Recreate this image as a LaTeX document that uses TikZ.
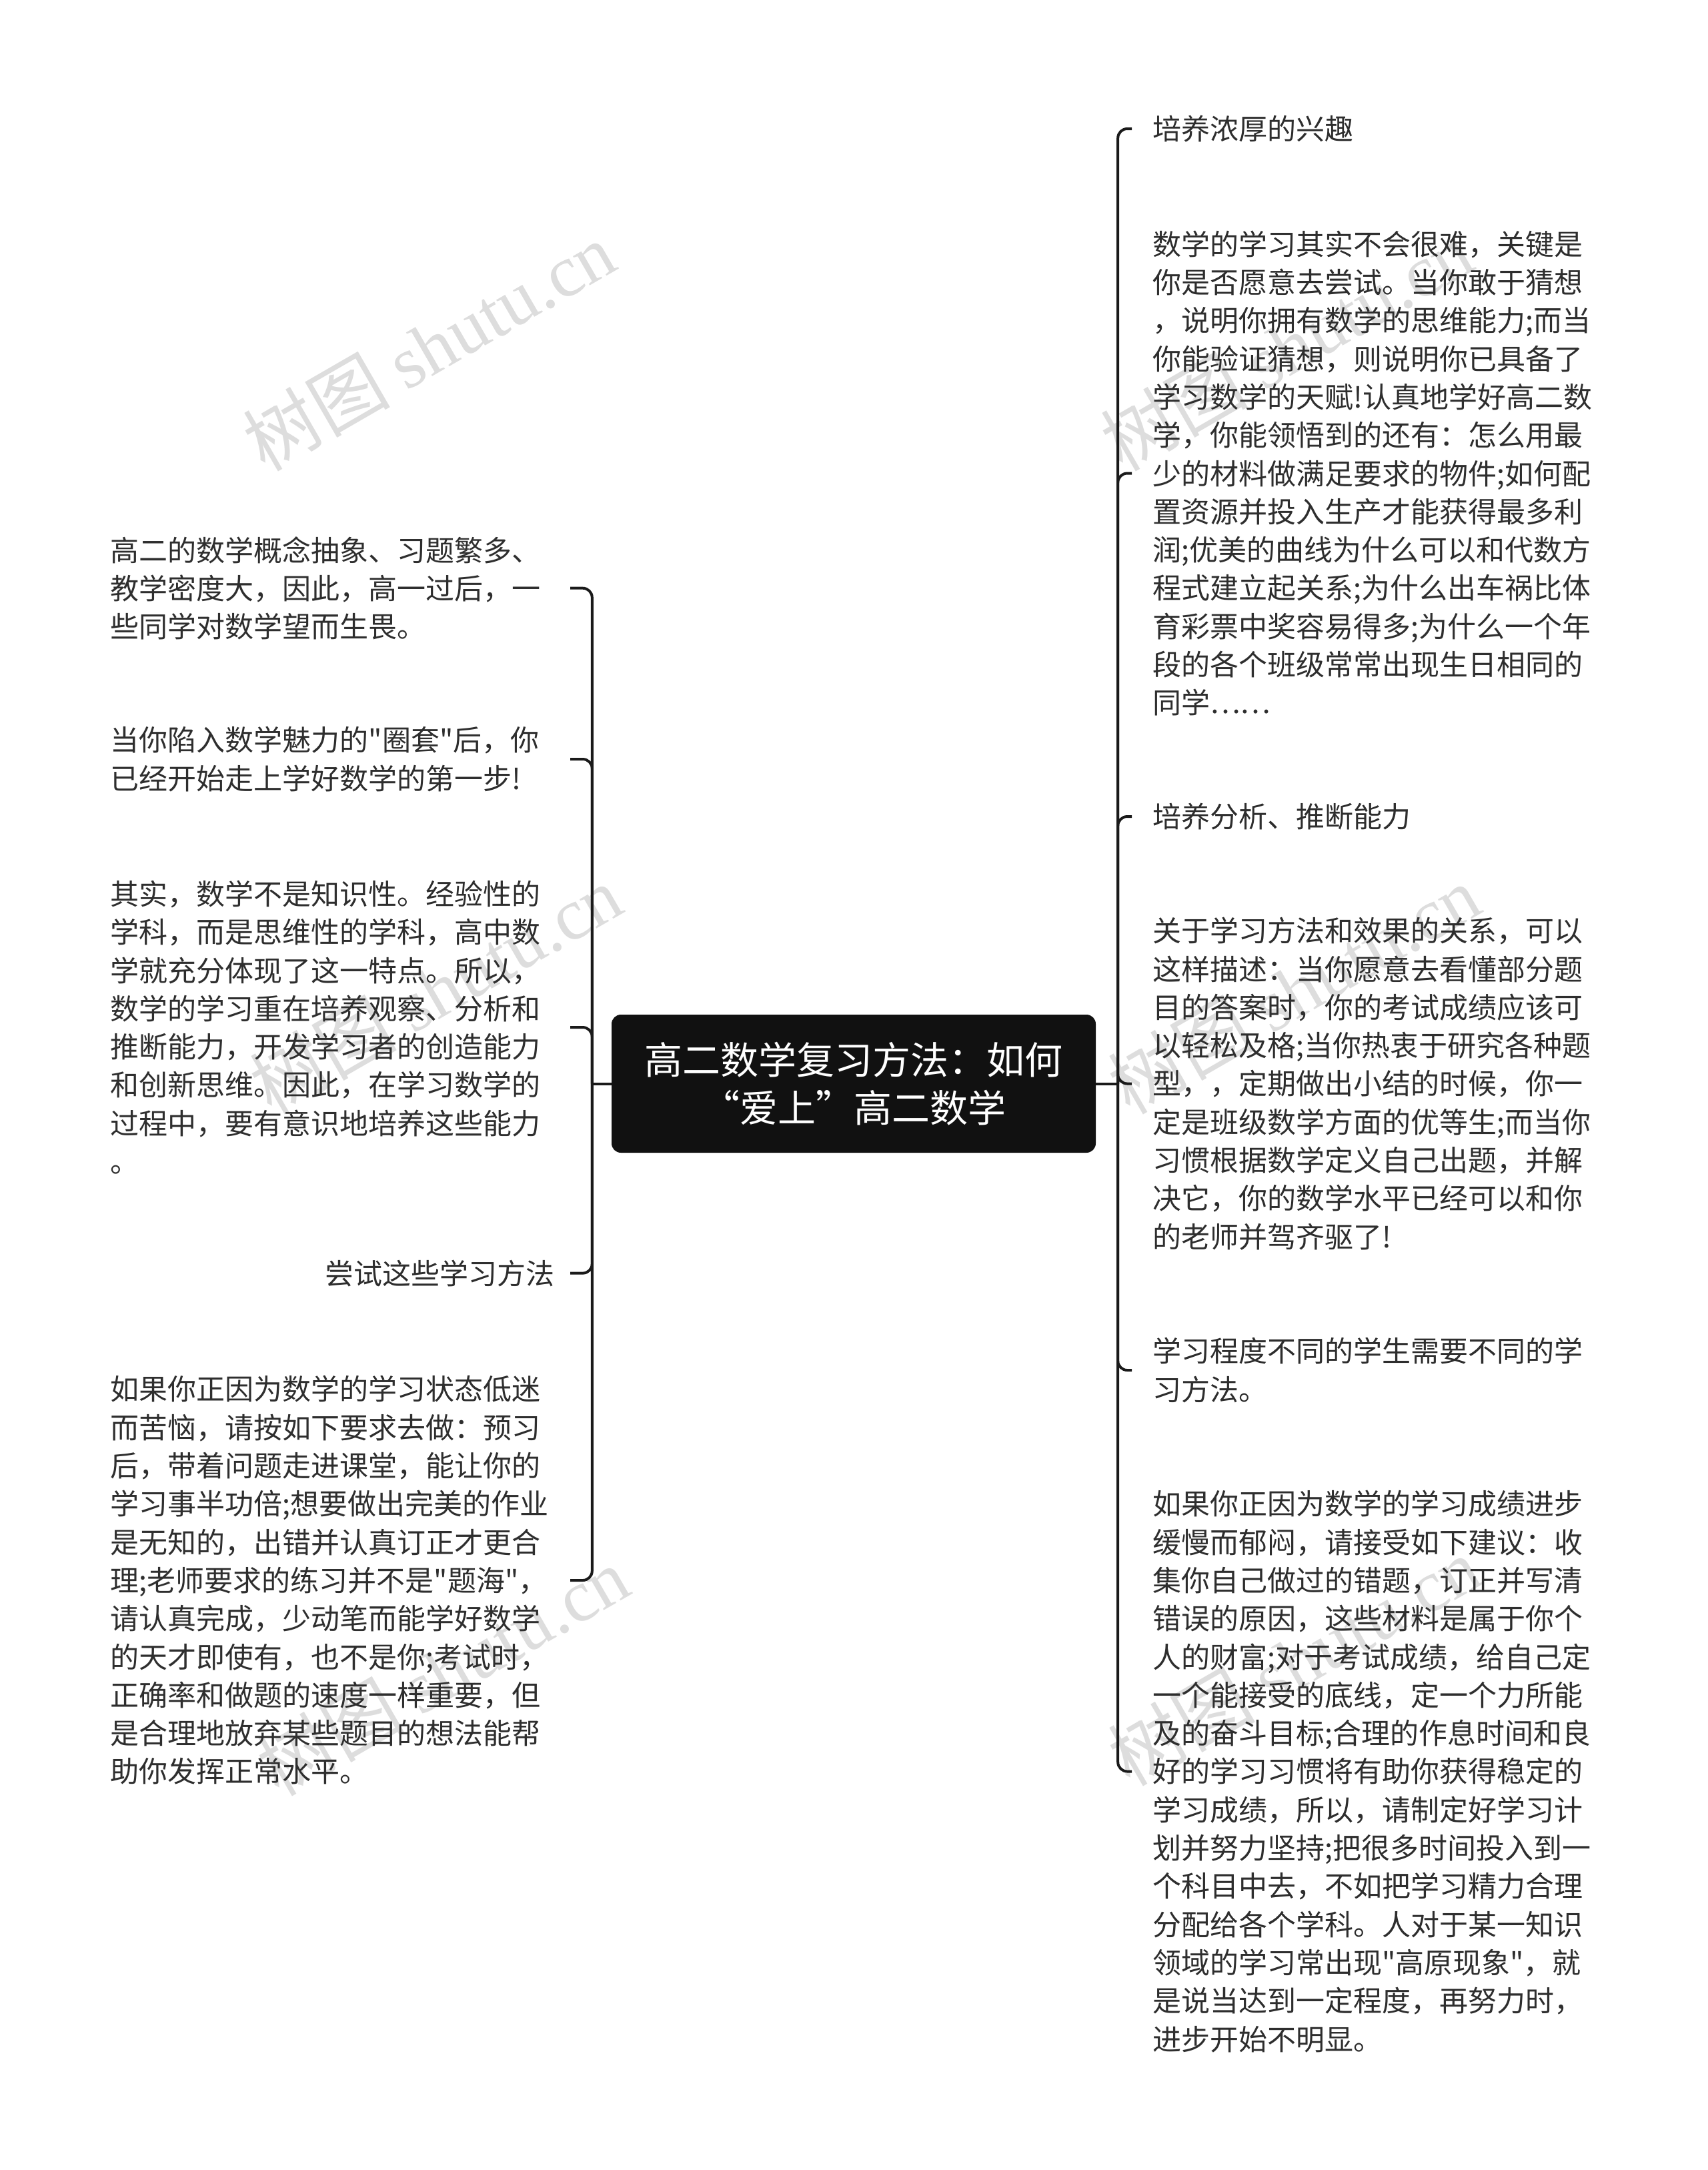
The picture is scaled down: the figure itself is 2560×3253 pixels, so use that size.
\documentclass[tikz,border=0pt]{standalone}
\usepackage{fontspec}
\setmainfont{Noto Sans CJK SC}[Ligatures=TeXOff]
\newfontfamily\wmserif{Liberation Serif}
\definecolor{txt}{HTML}{2E2E2E}
\definecolor{ln}{HTML}{1A1A1A}
\definecolor{wm}{HTML}{DDDDDD}
\definecolor{cbox}{HTML}{111111}
\begin{document}
\begin{tikzpicture}[x=1pt,y=-1pt,
  rleaf/.style={font=\fontsize{43}{57.3}\selectfont, text=txt, align=left, inner xsep=31pt, inner ysep=0pt, anchor=west},
  lleaf/.style={font=\fontsize{43}{57.3}\selectfont, text=txt, align=left, text width=660pt, inner xsep=29pt, inner ysep=0pt, anchor=east},
  titlebox/.style={fill=cbox, rounded corners=14pt, minimum width=726pt, minimum height=207pt, text=white, font=\fontsize{57}{72.6}\selectfont, align=center, inner sep=0pt},
  conn/.style={draw=ln, line width=4pt, rounded corners=14pt},
  wmark/.style={text=wm, rotate=30, font=\fontsize{110}{110}\selectfont, inner sep=0pt}
]
\useasboundingbox (0,0) rectangle (2560,3253);
\fill[white] (0,0) rectangle (2560,3253);

% watermarks
\node[wmark] (w1) at (643,519) {树图 {\wmserif shutu.cn}};
\node[wmark] (w2) at (1929,519) {树图 {\wmserif shutu.cn}};
\node[wmark] (w3) at (653,1483) {树图 {\wmserif shutu.cn}};
\node[wmark] (w4) at (1940,1483) {树图 {\wmserif shutu.cn}};
\node[wmark] (w5) at (664,2505) {树图 {\wmserif shutu.cn}};
\node[wmark] (w6) at (1940,2490) {树图 {\wmserif shutu.cn}};

% central node
\node[titlebox] (c) at (1280,1624.5) {高二数学复习方法：如何\\“爱上”高二数学};

% right children
\node[rleaf] (r1) at (1697,193) {培养浓厚的兴趣};
\node[rleaf] (r2) at (1697,709.5) {数学的学习其实不会很难，关键是\\你是否愿意去尝试。当你敢于猜想\\，说明你拥有数学的思维能力;而当\\你能验证猜想，则说明你已具备了\\学习数学的天赋!认真地学好高二数\\学，你能领悟到的还有：怎么用最\\少的材料做满足要求的物件;如何配\\置资源并投入生产才能获得最多利\\润;优美的曲线为什么可以和代数方\\程式建立起关系;为什么出车祸比体\\育彩票中奖容易得多;为什么一个年\\段的各个班级常常出现生日相同的\\同学……};
\node[rleaf] (r3) at (1697,1224) {培养分析、推断能力};
\node[rleaf] (r4) at (1697,1624.5) {关于学习方法和效果的关系，可以\\这样描述：当你愿意去看懂部分题\\目的答案时，你的考试成绩应该可\\以轻松及格;当你热衷于研究各种题\\型，，定期做出小结的时候，你一\\定是班级数学方面的优等生;而当你\\习惯根据数学定义自己出题，并解\\决它，你的数学水平已经可以和你\\的老师并驾齐驱了!};
\node[rleaf] (r5) at (1697,2054) {学习程度不同的学生需要不同的学\\习方法。};
\node[rleaf] (r6) at (1697,2655.5) {如果你正因为数学的学习成绩进步\\缓慢而郁闷，请接受如下建议：收\\集你自己做过的错题，订正并写清\\错误的原因，这些材料是属于你个\\人的财富;对于考试成绩，给自己定\\一个能接受的底线，定一个力所能\\及的奋斗目标;合理的作息时间和良\\好的学习习惯将有助你获得稳定的\\学习成绩，所以，请制定好学习计\\划并努力坚持;把很多时间投入到一\\个科目中去，不如把学习精力合理\\分配给各个学科。人对于某一知识\\领域的学习常出现"高原现象"，就\\是说当达到一定程度，再努力时，\\进步开始不明显。};

% left children
\node[lleaf] (l1) at (855,881.7) {高二的数学概念抽象、习题繁多、\\教学密度大，因此，高一过后，一\\些同学对数学望而生畏。};
\node[lleaf] (l2) at (855,1138) {当你陷入数学魅力的"圈套"后，你\\已经开始走上学好数学的第一步!};
\node[lleaf] (l3) at (855,1540) {其实，数学不是知识性。经验性的\\学科，而是思维性的学科，高中数\\学就充分体现了这一特点。所以，\\数学的学习重在培养观察、分析和\\推断能力，开发学习者的创造能力\\和创新思维。因此，在学习数学的\\过程中，要有意识地培养这些能力\\。};
\node[lleaf, align=right, inner xsep=23pt, text width=666pt] (l4) at (855,1908.6) {尝试这些学习方法};
\node[lleaf] (l5) at (855,2369) {如果你正因为数学的学习状态低迷\\而苦恼，请按如下要求去做：预习\\后，带着问题走进课堂，能让你的\\学习事半功倍;想要做出完美的作业\\是无知的，出错并认真订正才更合\\理;老师要求的练习并不是"题海"，\\请认真完成，少动笔而能学好数学\\的天才即使有，也不是你;考试时，\\正确率和做题的速度一样重要，但\\是合理地放弃某些题目的想法能帮\\助你发挥正常水平。};

% connectors
\coordinate (trR) at ([xshift=33pt]c.east);
\coordinate (trL) at ([xshift=-29pt]c.west);
\draw[conn] (c.east) -- (trR);
\draw[conn] (c.west) -- (trL);
\foreach \n in {r1,r2,r3,r4,r5,r6} {\draw[conn] (trR) |- (\n.west);}
\foreach \n in {l1,l2,l3,l4,l5} {\draw[conn] (trL) |- (\n.east);}
\end{tikzpicture}
\end{document}
